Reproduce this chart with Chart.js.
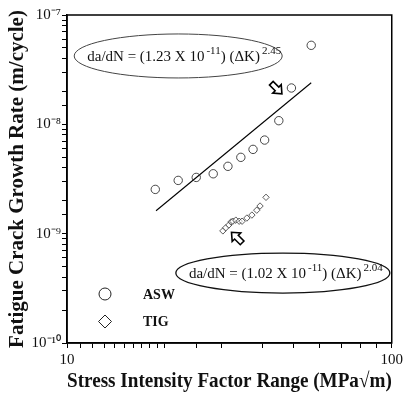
<!DOCTYPE html>
<html>
<head>
<meta charset="utf-8">
<script src="https://cdn.jsdelivr.net/npm/chart.js@4.4.1/dist/chart.umd.min.js"></script>
<style>
  html, body { margin: 0; padding: 0; background: #fff; }
  canvas { display: block; }
</style>
</head>
<body>
<canvas id="c" width="406" height="396"></canvas>
<script>
// ---- data ----
const seriesNames = ['ASW', 'TIG'];
const aswK    = [18.7, 22.0, 25.0, 28.2, 31.3, 34.3, 37.4, 40.6, 44.9, 49.1, 56.5];
const aswRate = [2.54e-9, 3.07e-9, 3.27e-9, 3.53e-9, 4.13e-9, 4.99e-9, 5.9e-9, 7.18e-9, 1.08e-8, 2.15e-8, 5.28e-8];
const tigK    = [30.2, 30.8, 31.5, 32.0, 32.4, 33.1, 33.9, 34.6, 35.8, 37.1, 38.4, 39.3, 41.0];
const tigRate = [1.06e-9, 1.13e-9, 1.20e-9, 1.28e-9, 1.30e-9, 1.33e-9, 1.30e-9, 1.30e-9, 1.39e-9, 1.48e-9, 1.64e-9, 1.79e-9, 2.15e-9];
const fitK    = [18.8, 56.5];
const fitRate = [1.62e-9, 2.40e-8];
const xTickValues = [10, 100];
const xTickLabels = ['10', '100'];
const yTickValues = [1e-10, 1e-9, 1e-8, 1e-7];
const yTickLabels = ['10⁻¹⁰', '10⁻⁹', '10⁻⁸', '10⁻⁷'];
const eq1 = [['da/dN = (1.23 X 10', false], ['-11', true], [') (ΔK)', false], ['2.45', true]];
const eq2 = [['da/dN = (1.02 X 10', false], ['-11', true], [') (ΔK)', false], ['2.04', true]];

// ---- annotation placement (data coordinates) ----
const annotations = {
  ellipses: [
    { x: 22.0, y: 4.22e-8, rx: 104, ry: 22, parts: eq1, color: '#444', lw: 1, dx: 6 },
    { x: 46.2, y: 4.36e-10, rx: 107, ry: 20, parts: eq2, color: '#111', lw: 1.3, dx: 3 }
  ],
  arrows: [
    { x: 45.9, y: 1.9e-8, angle: Math.PI / 4 },
    { x: 32.1, y: 1.03e-9, angle: -3 * Math.PI / 4 }
  ]
};

const SERIF = '"Liberation Serif", "Times New Roman", serif';

function labelFor(values, labels, v) {
  const i = values.findIndex(t => Math.abs(Math.log10(t) - Math.log10(v)) < 1e-6);
  return i >= 0 ? labels[i] : '';
}

function richWidth(ctx, parts, size) {
  let w = 0;
  for (const [t, sup] of parts) {
    ctx.font = (sup ? Math.round(size * 0.7) : size) + 'px ' + SERIF;
    w += ctx.measureText(t).width + (sup ? 2 : 0);
  }
  return w;
}
function drawRich(ctx, parts, cx, baseY, size) {
  const total = richWidth(ctx, parts, size);
  let x = cx - total / 2;
  ctx.fillStyle = '#111';
  ctx.textBaseline = 'alphabetic';
  ctx.textAlign = 'left';
  for (const [t, sup] of parts) {
    if (sup) {
      ctx.font = Math.round(size * 0.7) + 'px ' + SERIF;
      x += 2;
      ctx.fillText(t, x, baseY - size * 0.45);
    } else {
      ctx.font = size + 'px ' + SERIF;
      ctx.fillText(t, x, baseY);
    }
    x += ctx.measureText(t).width;
  }
}

function drawArrow(ctx, x, y, angle) {
  ctx.save();
  ctx.translate(x, y);
  ctx.rotate(angle);
  const L = 15, w = 2.6, h = 7, H = 6;
  ctx.beginPath();
  ctx.moveTo(0, 0);
  ctx.lineTo(-h, -H);
  ctx.lineTo(-h, -w);
  ctx.lineTo(-L, -w);
  ctx.lineTo(-L, w);
  ctx.lineTo(-h, w);
  ctx.lineTo(-h, H);
  ctx.closePath();
  ctx.fillStyle = '#fff';
  ctx.fill();
  ctx.lineWidth = 1.6;
  ctx.strokeStyle = '#000';
  ctx.stroke();
  ctx.restore();
}

const overlay = {
  id: 'overlay',
  afterDatasetsDraw(chart) {
    const ctx = chart.ctx;
    const xs = chart.scales.x, ys = chart.scales.y;
    const a = chart.chartArea;
    ctx.save();
    // frame
    ctx.strokeStyle = '#000';
    ctx.lineWidth = 1.5;
    ctx.strokeRect(a.left, a.top, a.right - a.left, a.bottom - a.top);
    // ellipses with equations
    for (const e of annotations.ellipses) {
      const cx = xs.getPixelForValue(e.x), cy = ys.getPixelForValue(e.y);
      ctx.beginPath();
      ctx.ellipse(cx, cy, e.rx, e.ry, 0, 0, Math.PI * 2);
      ctx.strokeStyle = e.color;
      ctx.lineWidth = e.lw;
      ctx.stroke();
      drawRich(ctx, e.parts, cx + e.dx, cy + 5, 15);
    }
    // arrows
    for (const r of annotations.arrows) {
      drawArrow(ctx, xs.getPixelForValue(r.x), ys.getPixelForValue(r.y), r.angle);
    }
    // legend (inside the plot, lower left)
    const lx = a.left + 38, ly = a.bottom - 49;
    ctx.strokeStyle = '#222';
    ctx.lineWidth = 1;
    ctx.beginPath();
    ctx.arc(lx, ly, 6, 0, Math.PI * 2);
    ctx.stroke();
    ctx.beginPath();
    ctx.moveTo(lx, ly + 21); ctx.lineTo(lx + 6.5, ly + 27.5);
    ctx.lineTo(lx, ly + 34); ctx.lineTo(lx - 6.5, ly + 27.5); ctx.closePath();
    ctx.stroke();
    ctx.fillStyle = '#111';
    ctx.font = 'bold 14px ' + SERIF;
    ctx.textAlign = 'left';
    ctx.textBaseline = 'middle';
    ctx.fillText(seriesNames[0], lx + 38, ly + 1);
    ctx.fillText(seriesNames[1], lx + 38, ly + 28);
    ctx.restore();
  }
};

new Chart(document.getElementById('c'), {
  type: 'scatter',
  data: {
    datasets: [
      {
        label: seriesNames[0],
        data: aswK.map((k, i) => ({ x: k, y: aswRate[i] })),
        pointStyle: 'circle', pointRadius: 4.2, borderColor: '#333', borderWidth: 0.9,
        backgroundColor: 'rgba(0,0,0,0)'
      },
      {
        label: seriesNames[1],
        data: tigK.map((k, i) => ({ x: k, y: tigRate[i] })),
        pointStyle: 'rectRot', pointRadius: 3.2, borderColor: '#333', borderWidth: 0.8,
        backgroundColor: 'rgba(255,255,255,0.6)'
      },
      {
        label: 'fit',
        type: 'line',
        data: fitK.map((k, i) => ({ x: k, y: fitRate[i] })),
        borderColor: '#000', borderWidth: 1.1, pointRadius: 0, fill: false
      }
    ]
  },
  options: {
    responsive: false,
    animation: false,
    layout: { padding: { top: 15, right: 14, left: 0, bottom: 0 } },
    plugins: { legend: { display: false }, tooltip: { enabled: false } },
    scales: {
      x: {
        type: 'logarithmic', min: 10, max: 100,
        afterFit(s) { s.height = 53; },
        grid: { drawOnChartArea: false, drawTicks: true, tickLength: 5, color: '#000', lineWidth: 1 },
        border: { display: true, color: '#000', width: 1.5 },
        ticks: {
          autoSkip: false, maxRotation: 0, padding: 3, color: '#111',
          font: { family: SERIF, size: 15 },
          callback: v => labelFor(xTickValues, xTickLabels, v)
        },
        title: {
          display: true, text: 'Stress Intensity Factor Range (MPa√m)',
          color: '#111', font: { family: SERIF, size: 21, weight: 'bold' }, padding: { top: 0, bottom: 2 }
        }
      },
      y: {
        type: 'logarithmic', min: 1e-10, max: 1e-7,
        afterFit(s) { s.width = 67; },
        grid: { drawOnChartArea: false, drawTicks: true, tickLength: 5, color: '#000', lineWidth: 1 },
        border: { display: true, color: '#000', width: 1.5 },
        ticks: {
          autoSkip: false, padding: 1, color: '#111',
          font: { family: SERIF, size: 15 },
          callback: v => labelFor(yTickValues, yTickLabels, v)
        },
        title: {
          display: true, text: 'Fatigue Crack Growth Rate (m/cycle)',
          color: '#111', font: { family: SERIF, size: 21, weight: 'bold' }, padding: { top: 5, bottom: 0 }
        }
      }
    }
  },
  plugins: [overlay]
});
</script>
</body>
</html>
